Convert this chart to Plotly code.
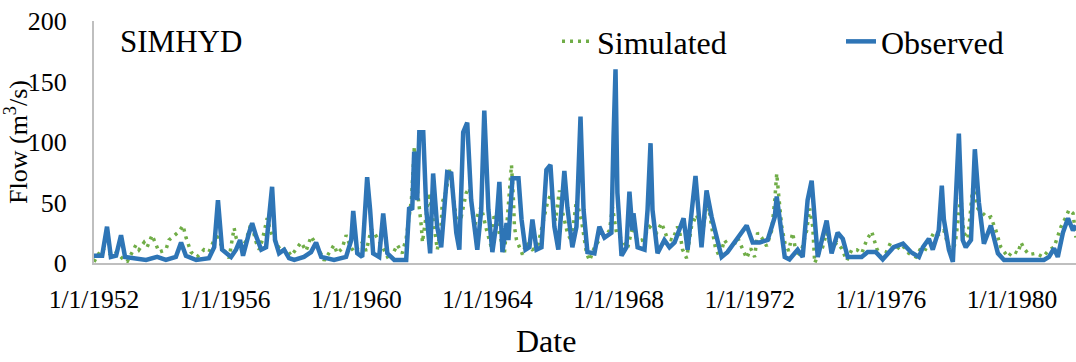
import pandas as pd
import plotly.graph_objects as go

# Observed monthly flow (m3/s): dates of turning points and their values
obs_dates = [
    "1952-01-01", "1952-04-01", "1952-05-25", "1952-07-07", "1952-09-03", "1952-10-28", "1952-12-12",
    "1953-02-28", "1953-08-03", "1953-12-04", "1954-03-12", "1954-07-01", "1954-08-28", "1954-10-21",
    "1955-02-12", "1955-07-04", "1955-09-01", "1955-10-13", "1955-11-28", "1956-03-07", "1956-05-01",
    "1956-06-15", "1956-07-18", "1956-09-24", "1956-10-28", "1956-12-12", "1957-02-06", "1957-04-01",
    "1957-05-04", "1957-06-07", "1957-07-10", "1957-08-24", "1957-10-19", "1957-12-13", "1958-02-09",
    "1958-05-28", "1958-08-15", "1958-10-10", "1958-12-06", "1959-04-28", "1959-09-09", "1959-11-06",
    "1959-11-28", "1960-01-12", "1960-03-07", "1960-04-21", "1960-05-01", "1960-06-03", "1960-07-07",
    "1960-09-12", "1960-10-27", "1960-12-12", "1961-02-27", "1961-07-10", "1961-08-12", "1961-09-15",
    "1961-10-07", "1961-11-10", "1961-12-03", "1962-01-16", "1962-02-19", "1962-04-03", "1962-05-06",
    "1962-06-20", "1962-08-04", "1962-10-10", "1962-11-24", "1963-01-19", "1963-02-22", "1963-04-06",
    "1963-05-21", "1963-07-04", "1963-09-10", "1963-10-24", "1963-11-27", "1964-01-12", "1964-02-25",
    "1964-04-10", "1964-05-13", "1964-06-16", "1964-08-01", "1964-08-22", "1964-10-06", "1964-12-12",
    "1965-01-15", "1965-02-28", "1965-04-13", "1965-05-16", "1965-07-01", "1965-08-25", "1965-10-19",
    "1965-12-03", "1966-01-16", "1966-03-01", "1966-05-07", "1966-06-10", "1966-08-04", "1966-09-19",
    "1966-11-03", "1966-12-07", "1967-01-19", "1967-04-07", "1967-06-01", "1967-07-28", "1967-10-13",
    "1967-11-06", "1967-11-28", "1967-12-19", "1968-02-03", "1968-03-28", "1968-05-01", "1968-06-03",
    "1968-06-15", "1968-07-31", "1968-10-16", "1968-11-19", "1968-12-22", "1969-01-13", "1969-03-10",
    "1969-05-25", "1969-07-21", "1969-09-16", "1969-11-10", "1969-12-25", "1970-02-08", "1970-03-22",
    "1970-05-07", "1970-07-13", "1970-09-07", "1970-11-03", "1971-02-22", "1971-04-28", "1971-08-07",
    "1971-11-28", "1972-02-03", "1972-04-21", "1972-07-19", "1972-10-06", "1972-10-28", "1972-12-01",
    "1973-01-25", "1973-03-19", "1973-06-18", "1973-08-13", "1973-10-07", "1973-11-21", "1974-01-28",
    "1974-05-07", "1974-07-01", "1974-09-07", "1974-11-03", "1974-12-28", "1975-06-01", "1975-08-07",
    "1975-11-06", "1976-01-22", "1976-03-28", "1976-05-22", "1976-09-04", "1976-10-28", "1976-12-01",
    "1977-02-28", "1977-04-13", "1977-06-19", "1977-08-01", "1977-10-07", "1977-11-10", "1977-12-03",
    "1978-01-28", "1978-03-13", "1978-04-16", "1978-05-19", "1978-07-01", "1978-08-04", "1978-10-01",
    "1978-11-13", "1978-12-28", "1979-02-22", "1979-05-10", "1979-07-28", "1979-10-04", "1980-12-22",
    "1981-02-16", "1981-04-13", "1981-05-25", "1981-07-21", "1981-09-16", "1981-11-10", "1981-12-12",
]
obs_flow = [
    6, 6, 30, 5, 6, 23, 5,
    4, 2.5, 5, 2.5, 5, 17, 6,
    2.5, 4, 13, 52, 11, 5, 11,
    19, 6, 25, 33, 22, 11, 13,
    38, 63, 19, 8, 11, 4, 2.5,
    5, 9, 17, 5, 2.5, 5, 19,
    43, 8, 5, 52, 71, 44, 8,
    5, 41, 8, 2.5, 2.5, 46, 44,
    92, 52, 108, 108, 44, 8, 74,
    30, 13, 75, 74, 25, 11, 108,
    116, 52, 11, 44, 126, 44, 9,
    33, 67, 9, 33, 19, 70, 70,
    36, 11, 13, 36, 11, 13, 77,
    81, 30, 11, 76, 46, 13, 30,
    121, 44, 9, 8, 30, 21, 25,
    104, 160, 58, 6, 13, 59, 27,
    41, 13, 11, 44, 99, 44, 8,
    19, 13, 17, 27, 37, 11, 41,
    72, 13, 60, 38, 5, 9, 20,
    31, 17, 17, 19, 38, 55, 38,
    5, 3, 11, 5, 52, 68, 5,
    35, 8, 25, 20, 5, 5, 9,
    9, 3, 8, 13, 16, 12, 9,
    5, 13, 20, 11, 27, 64, 36,
    11, 1, 63, 107, 19, 13, 19,
    94, 50, 16, 31, 8, 2.5, 2.5,
    5, 12, 5, 25, 37, 27, 31,
]

# SIMHYD simulated flow (m3/s)
sim_dates = [
    "1952-01-01", "1952-03-29", "1952-06-16", "1952-08-11", "1952-11-09", "1953-01-04", "1953-04-13",
    "1953-05-16", "1953-07-11", "1953-08-14", "1953-10-09", "1953-10-31", "1953-12-26", "1954-03-12",
    "1954-04-15", "1954-05-18", "1954-08-05", "1954-09-19", "1954-10-22", "1954-12-17", "1955-02-23",
    "1955-05-10", "1955-07-05", "1955-08-30", "1955-10-03", "1955-11-17", "1956-01-12", "1956-02-14",
    "1956-04-10", "1956-05-02", "1956-06-27", "1956-08-22", "1956-10-17", "1956-12-12", "1957-01-15",
    "1957-02-18", "1957-04-13", "1957-05-27", "1957-08-02", "1957-09-16", "1957-11-11", "1958-01-06",
    "1958-04-26", "1958-06-21", "1958-08-16", "1958-10-22", "1959-01-09", "1959-04-29", "1959-06-02",
    "1959-07-27", "1959-09-10", "1959-10-25", "1959-12-09", "1960-03-07", "1960-04-21", "1960-06-16",
    "1960-07-19", "1960-08-22", "1960-10-28", "1961-01-04", "1961-04-02", "1961-05-27", "1961-07-11",
    "1961-09-06", "1961-10-09", "1961-11-12", "1961-12-04", "1961-12-26", "1962-01-07", "1962-02-20",
    "1962-03-24", "1962-05-08", "1962-06-22", "1962-08-05", "1962-08-16", "1962-09-30", "1962-11-03",
    "1962-12-17", "1963-01-20", "1963-03-15", "1963-05-10", "1963-06-13", "1963-08-08", "1963-10-03",
    "1963-10-25", "1963-12-20", "1964-02-14", "1964-03-18", "1964-05-13", "1964-07-08", "1964-08-11",
    "1964-09-25", "1964-10-17", "1964-10-28", "1964-11-20", "1965-01-26", "1965-03-10", "1965-05-16",
    "1965-07-11", "1965-09-28", "1965-10-31", "1965-12-14", "1966-01-28", "1966-03-13", "1966-04-04",
    "1966-06-10", "1966-07-24", "1966-09-19", "1966-11-14", "1967-01-09", "1967-02-12", "1967-04-07",
    "1967-06-02", "1967-07-27", "1967-09-22", "1967-10-25", "1967-12-09", "1968-02-14", "1968-04-10",
    "1968-06-05", "1968-07-30", "1968-09-24", "1968-12-11", "1969-02-28", "1969-04-24", "1969-06-30",
    "1969-08-25", "1969-10-19", "1969-11-11", "1969-12-14", "1970-01-28", "1970-03-23", "1970-05-18",
    "1970-07-24", "1970-09-19", "1970-11-14", "1970-12-17", "1971-02-01", "1971-03-26", "1971-05-10",
    "1971-06-24", "1971-08-19", "1971-10-02", "1971-11-28", "1972-01-12", "1972-02-25", "1972-03-29",
    "1972-05-13", "1972-07-08", "1972-09-02", "1972-10-06", "1972-10-28", "1972-11-20", "1972-12-23",
    "1973-01-26", "1973-03-10", "1973-04-24", "1973-06-07", "1973-08-02", "1973-09-27", "1973-10-30",
    "1973-12-03", "1973-12-25", "1974-02-09", "1974-03-23", "1974-05-07", "1974-07-02", "1974-08-27",
    "1974-10-22", "1974-12-17", "1975-02-11", "1975-04-07", "1975-06-02", "1975-07-27", "1975-09-21",
    "1975-11-16", "1975-12-31", "1976-02-25", "1976-04-20", "1976-06-15", "1976-08-10", "1976-10-05",
    "1976-11-08", "1977-01-25", "1977-03-20", "1977-05-04", "1977-06-18", "1977-08-13", "1977-09-27",
    "1977-12-03", "1978-01-17", "1978-03-12", "1978-04-15", "1978-05-18", "1978-06-10", "1978-07-13",
    "1978-08-27", "1978-10-22", "1978-11-14", "1978-12-17", "1979-02-11", "1979-04-07", "1979-05-10",
    "1979-07-05", "1979-08-30", "1979-11-16", "1980-01-12", "1980-03-07", "1980-04-10", "1980-05-13",
    "1980-07-08", "1980-09-25", "1980-12-12", "1981-02-17", "1981-04-13", "1981-06-30", "1981-08-24",
    "1981-09-27", "1981-11-11", "1981-12-14",
]
sim_flow = [
    1, 12, 8, 11, 4, 1, 15,
    11, 17, 13, 23, 19, 9, 11,
    19, 21, 26, 31, 21, 9, 5,
    11, 9, 19, 25, 15, 8, 4,
    29, 21, 10, 19, 33, 17, 11,
    19, 37, 25, 15, 10, 12, 6,
    17, 10, 22, 14, 2, 15, 8,
    12, 23, 14, 9, 17, 10, 28,
    25, 21, 12, 2, 15, 8, 21,
    52, 96, 60, 46, 30, 17, 40,
    58, 35, 11, 33, 50, 60, 77,
    55, 36, 38, 58, 62, 30, 44,
    46, 28, 13, 41, 25, 8, 38,
    81, 52, 30, 19, 7, 17, 11,
    13, 38, 50, 58, 35, 60, 46,
    25, 18, 52, 35, 8, 2, 13,
    19, 21, 27, 46, 25, 19, 12,
    30, 18, 19, 30, 25, 33, 20,
    19, 30, 26, 11, 4, 30, 40,
    25, 52, 25, 12, 5, 19, 14,
    12, 21, 14, 4, 12, 5, 25,
    21, 14, 27, 52, 74, 55, 30,
    17, 10, 25, 5, 11, 27, 45,
    30, 0, 8, 13, 25, 11, 17,
    12, 2, 11, 11, 8, 19, 26,
    12, 5, 8, 17, 10, 15, 12,
    8, 5, 12, 10, 17, 25, 23,
    27, 15, 8, 20, 44, 55, 25,
    20, 63, 55, 45, 41, 37, 38,
    27, 13, 5, 10, 8, 17, 12,
    7, 8, 5, 11, 13, 30, 38,
    44, 41, 21,
]

tick_dates = ["1952-01-01", "1956-01-01", "1960-01-01", "1964-01-01",
              "1968-01-01", "1972-01-01", "1976-01-01", "1980-01-01"]
tick_text = ["1/1/1952", "1/1/1956", "1/1/1960", "1/1/1964",
             "1/1/1968", "1/1/1972", "1/1/1976", "1/1/1980"]
y_ticks = [0, 50, 100, 150, 200]

SERIF = "Liberation Serif, Times New Roman, serif"
GREEN = "#70AD47"
BLUE = "#2E75B6"
AXIS = "#BFBFBF"

fig = go.Figure()
fig.add_trace(go.Scatter(
    x=pd.to_datetime(sim_dates), y=sim_flow, name="Simulated", mode="lines",
    line=dict(color=GREEN, width=3.5, dash="3px,5px"), legend="legend",
))
fig.add_trace(go.Scatter(
    x=pd.to_datetime(obs_dates), y=obs_flow, name="Observed", mode="lines",
    line=dict(color=BLUE, width=4.5), legend="legend2",
))

fig.add_annotation(
    text="SIMHYD", xref="paper", yref="paper", x=0.024, y=0.915,
    xanchor="left", yanchor="middle", showarrow=False,
    font=dict(family=SERIF, size=31, color="black"),
)
# x-axis title, centred under the chart area
fig.add_annotation(
    text="Date", xref="paper", yref="paper", x=0.46, y=-0.322,
    xanchor="center", yanchor="middle", showarrow=False,
    font=dict(family=SERIF, size=32, color="black"),
)

legend_style = dict(
    orientation="h", yanchor="middle", xanchor="left", y=0.915,
    font=dict(family=SERIF, size=32, color="black"),
    bgcolor="rgba(0,0,0,0)", borderwidth=0,
)

fig.update_layout(
    width=1076, height=362,
    margin=dict(l=94, r=0, t=21, b=99),
    paper_bgcolor="white", plot_bgcolor="white",
    font=dict(family=SERIF, size=26, color="black"),
    showlegend=True,
    legend=dict(x=0.4715, **legend_style),
    legend2=dict(x=0.7607, **legend_style),
    xaxis=dict(
        range=["1952-01-01", "1981-12-14"],
        tickmode="array", tickvals=pd.to_datetime(tick_dates), ticktext=tick_text,
        showgrid=False, zeroline=False,
        showline=True, linecolor=AXIS, linewidth=2,
        ticks="", ticklabelstandoff=12,
        tickfont=dict(family=SERIF, size=25.5, color="black"),
    ),
    yaxis=dict(
        range=[0, 200], tickmode="array", tickvals=y_ticks,
        showgrid=False, zeroline=False,
        showline=True, linecolor=AXIS, linewidth=2,
        ticks="", ticklabelstandoff=20,
        tickfont=dict(family=SERIF, size=26, color="black"),
        title=dict(text="Flow (m<sup>3</sup>/s)", font=dict(family=SERIF, size=26, color="black"),
                   standoff=4),
    ),
)

fig.write_html("out.html")
